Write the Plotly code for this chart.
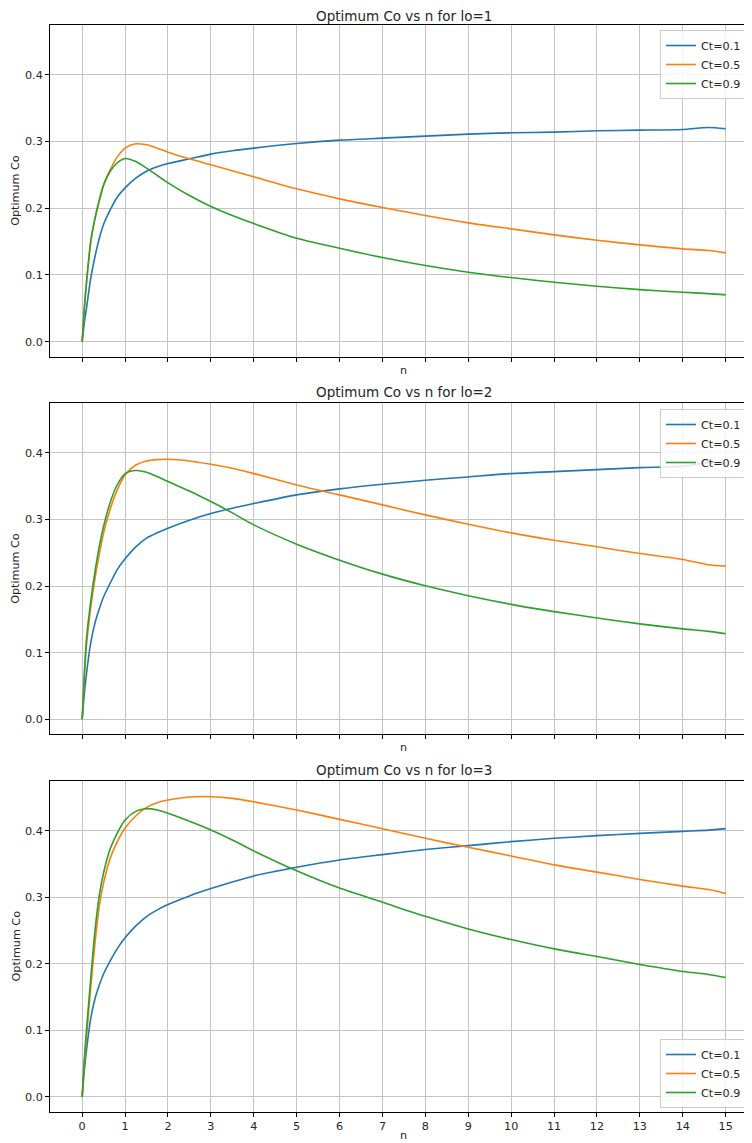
import plotly.graph_objects as go

# ---------------- data ----------------
n_vals = [0, 0.05, 0.1, 0.2, 0.3, 0.4, 0.5, 0.65, 0.8, 1.0, 1.25, 1.5, 1.75, 2.0, 2.5, 3, 3.5,
          4, 5, 6, 7, 8, 9, 10, 11, 12, 13, 14, 14.6, 15]
series_names = ["Ct=0.1", "Ct=0.5", "Ct=0.9"]
lo_values = [1, 2, 3]

lo1_ct01 = [0, 0.028, 0.05, 0.095, 0.128, 0.155, 0.176, 0.197, 0.215, 0.2305, 0.245, 0.2555, 0.262,
            0.267, 0.274, 0.281, 0.286, 0.290, 0.297, 0.302, 0.305, 0.308, 0.311, 0.313, 0.314,
            0.316, 0.317, 0.318, 0.321, 0.319]
lo1_ct05 = [0, 0.05, 0.088, 0.15, 0.185, 0.212, 0.235, 0.257, 0.275, 0.29, 0.2965, 0.295, 0.29,
            0.284, 0.274, 0.265, 0.256, 0.247, 0.229, 0.214, 0.201, 0.189, 0.178, 0.169, 0.160,
            0.152, 0.145, 0.139, 0.1365, 0.133]
lo1_ct09 = [0, 0.05, 0.088, 0.15, 0.185, 0.212, 0.235, 0.255, 0.267, 0.2745, 0.270, 0.260, 0.249,
            0.238, 0.219, 0.2025, 0.189, 0.177, 0.155, 0.140, 0.126, 0.114, 0.104, 0.096, 0.089,
            0.083, 0.078, 0.074, 0.072, 0.070]

lo2_ct01 = [0, 0.038, 0.068, 0.115, 0.145, 0.166, 0.184, 0.204, 0.223, 0.241, 0.259, 0.272, 0.280,
            0.287, 0.299, 0.309, 0.317, 0.324, 0.337, 0.346, 0.353, 0.359, 0.364, 0.369, 0.372,
            0.375, 0.378, 0.380, 0.3855, 0.3835]
lo2_ct05 = [0, 0.062, 0.11, 0.168, 0.212, 0.248, 0.28, 0.315, 0.342, 0.367, 0.382, 0.388, 0.390,
            0.3905, 0.388, 0.383, 0.377, 0.369, 0.352, 0.337, 0.322, 0.307, 0.293, 0.280, 0.269,
            0.259, 0.249, 0.240, 0.232, 0.230]
lo2_ct09 = [0, 0.068, 0.12, 0.177, 0.222, 0.26, 0.29, 0.325, 0.350, 0.369, 0.3736, 0.371, 0.3645,
            0.357, 0.343, 0.327, 0.310, 0.292, 0.263, 0.239, 0.218, 0.2005, 0.1856, 0.1726,
            0.1617, 0.1522, 0.1433, 0.1358, 0.132, 0.1284]

lo3_ct01 = [0, 0.04, 0.07, 0.118, 0.148, 0.168, 0.185, 0.204, 0.221, 0.239, 0.257, 0.271, 0.281,
            0.289, 0.302, 0.313, 0.323, 0.332, 0.345, 0.356, 0.364, 0.3716, 0.3776, 0.3835,
            0.3885, 0.3925, 0.396, 0.399, 0.4008, 0.403]
lo3_ct05 = [0, 0.05, 0.088, 0.165, 0.232, 0.287, 0.322, 0.358, 0.381, 0.404, 0.422, 0.435, 0.442,
            0.446, 0.4505, 0.451, 0.4485, 0.4434, 0.431, 0.417, 0.403, 0.3885, 0.375, 0.362,
            0.3486, 0.3377, 0.3267, 0.3167, 0.3115, 0.3057]
lo3_ct09 = [0, 0.057, 0.1, 0.178, 0.25, 0.303, 0.337, 0.372, 0.394, 0.416, 0.429, 0.433, 0.431,
            0.426, 0.414, 0.401, 0.386, 0.3696, 0.3397, 0.3137, 0.2925, 0.2713, 0.2524, 0.2364,
            0.2224, 0.211, 0.199, 0.1885, 0.184, 0.1795]

x_ticks = list(range(0, 16))
y_ticks = [0.0, 0.1, 0.2, 0.3, 0.4]
y_tick_labels = ["0.0", "0.1", "0.2", "0.3", "0.4"]

# ---------------- styling ----------------
colors = ["#1f77b4", "#ff7f0e", "#2ca02c"]
FONT = "DejaVu Sans"
TICK_SIZE = 11.2
TITLE_SIZE = 13.5
GRID = "#c4c4c4"
TXT = "#262626"

all_series = [
    [lo1_ct01, lo1_ct05, lo1_ct09],
    [lo2_ct01, lo2_ct05, lo2_ct09],
    [lo3_ct01, lo3_ct05, lo3_ct09],
]

fig = go.Figure()
legend_ids = ["legend", "legend2", "legend3"]
for i, group in enumerate(all_series):
    suffix = "" if i == 0 else str(i + 1)
    for j, ys in enumerate(group):
        fig.add_trace(go.Scatter(
            x=n_vals, y=ys, mode="lines", name=series_names[j],
            line=dict(color=colors[j], width=1.6, shape="spline", smoothing=0.7),
            xaxis="x" + suffix, yaxis="y" + suffix,
            legend=legend_ids[i], showlegend=True,
        ))

# The page body has an 8px margin, so figure px = screen px - 8.
OFF = 8
W, H = 752 - OFF, 1143 - OFF
left_m = 50 - OFF
top_m = 25 - OFF
plot_bottom = 1112 - OFF
bot_m = H - plot_bottom
ph = H - top_m - bot_m
pw = W - left_m


def py(screen_y):
    return (1112 - screen_y) / ph


domains = [
    [py(356.7), 1.0],
    [py(734.3), py(403.3)],
    [0.0, py(781)],
]
x_range = [-0.75, -0.75 + pw / 42.9]
y_range = [-0.0226, 0.4746]

layout = dict(
    width=W, height=H,
    margin=dict(l=left_m, r=0, t=top_m, b=bot_m, autoexpand=False),
    paper_bgcolor="white", plot_bgcolor="white",
    font=dict(family=FONT, size=TICK_SIZE, color=TXT),
)
for i in range(3):
    suffix = "" if i == 0 else str(i + 1)
    layout["xaxis" + suffix] = dict(
        domain=[0, 1], anchor="y" + suffix, range=x_range,
        tickmode="array", tickvals=x_ticks, ticktext=[str(t) for t in x_ticks],
        showticklabels=(i == 2), ticks="outside", ticklen=4, tickwidth=1, tickcolor="black",
        showline=True, linecolor="black", linewidth=1, mirror=True,
        showgrid=True, gridcolor=GRID, gridwidth=1, zeroline=False,
        tickfont=dict(family=FONT, size=TICK_SIZE, color=TXT),
    )
    layout["yaxis" + suffix] = dict(
        domain=domains[i], anchor="x" + suffix, range=y_range,
        tickmode="array", tickvals=y_ticks, ticktext=y_tick_labels,
        ticks="outside", ticklen=4, tickwidth=1, tickcolor="black",
        showline=True, linecolor="black", linewidth=1, mirror=False,
        showgrid=True, gridcolor=GRID, gridwidth=1, zeroline=False,
        tickfont=dict(family=FONT, size=TICK_SIZE, color=TXT),
    )

legend_style = dict(
    bgcolor="rgba(255,255,255,0.85)", bordercolor="#cccccc", borderwidth=1,
    font=dict(family=FONT, size=TICK_SIZE, color=TXT),
    x=(660 - 50) / pw, xanchor="left", tracegroupgap=0, itemwidth=30,
)
layout["legend"] = dict(legend_style, y=py(30), yanchor="top")
layout["legend2"] = dict(legend_style, y=py(409), yanchor="top")
layout["legend3"] = dict(legend_style, y=py(1108), yanchor="bottom")

annotations = []
title_centers = [15.5, 392, 770]
xlabel_centers = [370, 747, 1135.5]
for i, lo in enumerate(lo_values):
    suffix = "" if i == 0 else str(i + 1)
    annotations.append(dict(
        text=f"Optimum Co vs n for lo={lo}", xref="x" + suffix, x=7.5,
        yref="paper", y=py(title_centers[i]), yanchor="middle",
        showarrow=False, font=dict(family=FONT, size=TITLE_SIZE, color=TXT),
    ))
    annotations.append(dict(
        text="n", xref="x" + suffix, x=7.5,
        yref="paper", y=py(xlabel_centers[i]), yanchor="middle",
        showarrow=False, font=dict(family=FONT, size=TICK_SIZE, color=TXT),
    ))
    d = domains[i]
    annotations.append(dict(
        text="Optimum Co", xref="paper", x=(16 - 50) / pw, xanchor="center",
        yref="paper", y=(d[0] + d[1]) / 2, yanchor="middle", textangle=-90,
        showarrow=False, font=dict(family=FONT, size=TICK_SIZE, color=TXT),
    ))
layout["annotations"] = annotations

fig.update_layout(**layout)
fig.write_html("out.html")
